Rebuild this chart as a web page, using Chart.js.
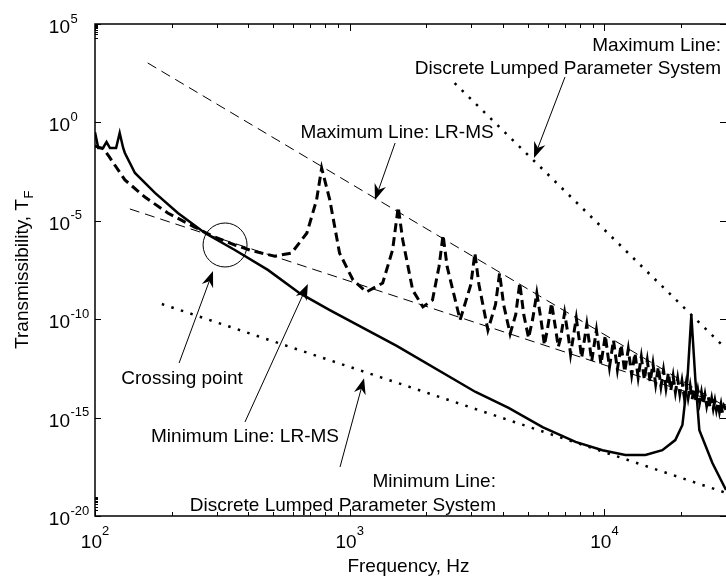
<!DOCTYPE html>
<html>
<head>
<meta charset="utf-8">
<script src="https://cdn.jsdelivr.net/npm/chart.js@4.4.0/dist/chart.umd.min.js"></script>
<style>
  html, body { margin: 0; padding: 0; background: #fff; }
  canvas { display: block; }
</style>
</head>
<body>
<canvas id="transChart" width="726" height="581"></canvas>
<script>
'use strict'

// solid curve
let solidFreq = [100, 103, 107.5, 111, 114.5, 121, 125, 129, 131, 143.5, 172, 211.5, 270, 354, 477, 636, 835, 1529, 3119, 4204,
    5715, 7697, 9822, 12080, 14480, 16870, 18970, 20230, 21160, 21930, 22750, 23580, 26530, 30000];
let solidT = [0.32, 0.05, 0.05, 0.1, 0.05, 0.05, 0.29, 0.05, 0.028, 2.7e-3, 2.6e-4, 2.5e-5, 2.4e-6, 3.3e-7, 3.2e-8, 2.1e-9, 2.9e-10, 4.4e-12, 2.0e-14, 3.1e-15,
    3.3e-16, 5.8e-17, 2.2e-17, 1.26e-17, 1.26e-17, 2.2e-17, 7.2e-17, 4.2e-16, 8.1e-14, 1.6e-10, 8.1e-14, 2.3e-16, 4.9e-18, 2.1e-19];

// thick dashed curve (resonances)
let dashedFreq = [100, 108, 114, 131, 157, 193, 246, 295, 354, 413, 508, 591, 679, 741, 776, 835, 912, 1030, 1162, 1347,
    1473, 1550, 1615, 1767, 1937, 2113, 2242, 2325, 2411, 2712, 2989, 3100, 3215, 3487, 3736, 3875, 4018, 4262, 4483, 4650,
    4822, 5037, 5230, 5425, 5626, 5812, 5977, 6200, 6429, 6587, 6724, 6975, 7233, 7362, 7750, 8138, 8525, 8912, 9300, 9688,
    10075, 10462, 10850, 11238, 11625, 12012, 12400, 12788, 13175, 13562, 13950, 14338, 14725, 15112, 15500, 15888, 16275, 16662, 17050, 17438,
    17825, 18212, 18600, 18988, 19375, 19762, 20150, 20538, 20925, 21312, 21700, 22088, 22475, 22862, 23250, 23638, 24025, 24412, 24800, 25188,
    25575, 25962, 26350, 26738, 27125, 27512, 27900, 28288, 28675, 29062, 29450, 30000];
let dashedT = [6.3e-2, 4.5e-2, 1.7e-2, 1.2e-3, 1.6e-4, 2.5e-5, 4.8e-6, 1.5e-6, 5.9e-7, 3.0e-7, 1.6e-7, 2.3e-7, 2.4e-6, 1.15e-4, 4.8e-3, 1.15e-4, 2.3e-7, 9.8e-9, 2.4e-9, 6.9e-9,
    3.3e-7, 5.0e-5, 1.05e-6, 3.0e-9, 4.2e-10, 9.5e-10, 4.8e-8, 1.9e-6, 4.8e-8, 9.1e-11, 5.8e-9, 2.3e-7, 5.8e-9, 2.8e-11, 5.6e-10, 2.2e-8, 5.6e-10, 1.8e-11, 1.7e-10, 6.9e-9,
    1.7e-10, 1.1e-11, 1.07e-10, 2.1e-9, 1.07e-10, 4.9e-12, 3.3e-11, 6.6e-10, 3.3e-11, 3.9e-12, 1.05e-11, 2.1e-10, 1.05e-11, 1.66e-12, 1.15e-10, 1.1e-12, 5.5e-11, 7.4e-13, 2.8e-11, 5.2e-13,
    1.5e-11, 3.7e-13, 8.5e-12, 2.75e-13, 5.0e-12, 2.1e-13, 3.0e-12, 1.5e-13, 1.9e-12, 1.12e-13, 1.23e-12, 8.5e-14, 8.1e-13, 6.5e-14, 5.5e-13, 5.0e-14, 3.7e-13, 3.9e-14, 2.6e-13, 3.1e-14,
    1.9e-13, 2.45e-14, 1.3e-13, 1.95e-14, 9.8e-14, 1.6e-14, 7.2e-14, 1.3e-14, 5.4e-14, 1.05e-14, 4.1e-14, 8.5e-15, 3.1e-14, 7.1e-15, 2.4e-14, 5.9e-15, 1.86e-14, 4.9e-15, 1.45e-14, 4.1e-15,
    1.15e-14, 3.4e-15, 9.1e-15, 2.9e-15, 7.2e-15, 2.45e-15, 5.9e-15, 2.0e-15, 4.8e-15, 1.75e-15, 3.9e-15, 2.5e-15];

// guide lines
let maxLrmsFreq = [161, 30000];
let maxLrmsT = [1.05e3, 3.5e-15];
let minLrmsFreq = [137, 30000];
let minLrmsT = [4.0e-5, 4.4e-15];
let maxDiscFreq = [2581, 30000];
let maxDiscT = [100, 3.1e-12];
let minDiscFreq = [183, 30000];
let minDiscT = [5.9e-10, 1.5e-19];

// axes
let xTicks = [1e2, 1e3, 1e4];
let xTickExp = ['2', '3', '4'];
let yTicks = [1e5, 1e0, 1e-5, 1e-10, 1e-15, 1e-20];
let yTickExp = ['5', '0', '-5', '-10', '-15', '-20'];

// annotations, in data coordinates
const notes = [
    { text: 'Maximum Line:', f: 28700, t: 4250, align: 'right' },
    { text: 'Discrete Lumped Parameter System', f: 28700, t: 288, align: 'right' },
    { text: 'Maximum Line: LR-MS', f: 1534, t: 0.161, align: 'center' },
    { text: 'Crossing point', f: 219.6, t: 5.1e-14, align: 'center' },
    { text: 'Minimum Line: LR-MS', f: 388, t: 5.8e-17, align: 'center' },
    { text: 'Minimum Line:', f: 3750, t: 3.0e-19, align: 'right' },
    { text: 'Discrete Lumped Parameter System', f: 3750, t: 1.8e-20, align: 'right' }
];
const arrows = [
    { from: [7000, 203], to: [5290, 0.0155] },
    { from: [1507, 0.0897], to: [1256, 1.14e-4] },
    { from: [213.8, 5.9e-13], to: [290.6, 2.8e-8] },
    { from: [388, 6.0e-16], to: [685, 6.2e-9] },
    { from: [916, 3.1e-18], to: [1138, 1.0e-13] }
];
const crossing = { f: 324, t: 5.9e-7, r: 22 };

const FONT = '"Liberation Sans", Arial, Helvetica, sans-serif';

function pairs(xs, ys) {
    return xs.map((x, i) => ({ x: x, y: ys[i] }));
}

function drawArrow(ctx, x0, y0, x1, y1) {
    let dx = x1 - x0, dy = y1 - y0;
    let len = Math.hypot(dx, dy);
    let ux = dx / len, uy = dy / len;
    let nx = -uy, ny = ux;
    let hl = 16, hw = 6, notch = 5;
    ctx.beginPath();
    ctx.moveTo(x0, y0);
    ctx.lineTo(x1 - ux * (hl - notch), y1 - uy * (hl - notch));
    ctx.lineWidth = 1;
    ctx.stroke();
    ctx.beginPath();
    ctx.moveTo(x1, y1);
    ctx.lineTo(x1 - ux * hl + nx * hw, y1 - uy * hl + ny * hw);
    ctx.lineTo(x1 - ux * (hl - notch), y1 - uy * (hl - notch));
    ctx.lineTo(x1 - ux * hl - nx * hw, y1 - uy * hl - ny * hw);
    ctx.closePath();
    ctx.fill();
}

const matlabAxes = {
    id: 'matlabAxes',
    afterDraw(chart) {
        const ctx = chart.ctx;
        const xs = chart.scales.x, ys = chart.scales.y;
        const a = chart.chartArea;
        ctx.save();
        ctx.strokeStyle = '#000';
        ctx.fillStyle = '#000';

        // box (right side falls off the picture)
        ctx.lineWidth = 1.5;
        ctx.beginPath();
        ctx.moveTo(a.right, a.top);
        ctx.lineTo(a.left, a.top);
        ctx.lineTo(a.left, a.bottom);
        ctx.lineTo(a.right, a.bottom);
        ctx.stroke();

        // x ticks
        ctx.lineWidth = 1;
        ctx.beginPath();
        for (let d = 2; d <= 4; d++) {
            for (let m = 1; m <= 9; m++) {
                let v = m * Math.pow(10, d);
                if (v > 30000) break;
                let x = Math.round(xs.getPixelForValue(v)) + 0.5;
                let l = m === 1 ? 7 : 4;
                ctx.moveTo(x, a.bottom); ctx.lineTo(x, a.bottom - l);
                ctx.moveTo(x, a.top); ctx.lineTo(x, a.top + l);
            }
        }
        // y ticks
        yTicks.forEach(v => {
            let y = Math.round(ys.getPixelForValue(v)) + 0.5;
            ctx.moveTo(a.left, y); ctx.lineTo(a.left + 6, y);
            ctx.moveTo(a.right, y); ctx.lineTo(a.right - 6, y);
        });
        for (let m = 2; m <= 9; m++) {
            let y1 = Math.round(ys.getPixelForValue(m * 1e4)) + 0.5;
            let y2 = Math.round(ys.getPixelForValue(m * 1e-20)) + 0.5;
            ctx.moveTo(a.left, y1); ctx.lineTo(a.left + 3, y1);
            ctx.moveTo(a.left, y2); ctx.lineTo(a.left + 3, y2);
        }
        ctx.stroke();

        // tick labels
        ctx.textBaseline = 'alphabetic';
        xTicks.forEach((v, i) => {
            let x = xs.getPixelForValue(v);
            ctx.font = '19px ' + FONT;
            let w10 = ctx.measureText('10').width;
            ctx.font = '13px ' + FONT;
            let we = ctx.measureText(xTickExp[i]).width;
            let x0 = x - (w10 + we) / 2;
            ctx.textAlign = 'left';
            ctx.font = '19px ' + FONT;
            ctx.fillText('10', x0, 548);
            ctx.font = '13px ' + FONT;
            ctx.fillText(xTickExp[i], x0 + w10, 535);
        });
        yTicks.forEach((v, i) => {
            let y = ys.getPixelForValue(v);
            ctx.font = '19px ' + FONT;
            ctx.textAlign = 'right';
            ctx.fillText('10', 70, y + 9);
            ctx.font = '13px ' + FONT;
            ctx.textAlign = 'left';
            ctx.fillText(yTickExp[i], 70.5, y - 1.5);
        });

        // axis titles
        ctx.font = '19px ' + FONT;
        ctx.textAlign = 'center';
        ctx.fillText('Frequency, Hz', (a.left + a.right) / 2 - 2, 572);

        ctx.save();
        ctx.translate(28, (a.top + a.bottom) / 2);
        ctx.rotate(-Math.PI / 2);
        ctx.font = '19px ' + FONT;
        let wMain = ctx.measureText('Transmissibility, T').width;
        ctx.font = '13px ' + FONT;
        let wSub = ctx.measureText('F').width;
        let start = -(wMain + wSub) / 2;
        ctx.textAlign = 'left';
        ctx.font = '19px ' + FONT;
        ctx.fillText('Transmissibility, T', start, 0);
        ctx.font = '13px ' + FONT;
        ctx.fillText('F', start + wMain + 0.5, 5);
        ctx.restore();

        // annotations
        ctx.font = '19px ' + FONT;
        notes.forEach(n => {
            ctx.textAlign = n.align;
            ctx.fillText(n.text, xs.getPixelForValue(n.f), ys.getPixelForValue(n.t));
        });
        arrows.forEach(ar => {
            drawArrow(ctx,
                xs.getPixelForValue(ar.from[0]), ys.getPixelForValue(ar.from[1]),
                xs.getPixelForValue(ar.to[0]), ys.getPixelForValue(ar.to[1]));
        });
        ctx.lineWidth = 1;
        ctx.beginPath();
        ctx.arc(xs.getPixelForValue(crossing.f), ys.getPixelForValue(crossing.t), crossing.r, 0, Math.PI * 2);
        ctx.stroke();

        ctx.restore();
    }
};

const dataTrans = {
    datasets: [
        {
            label: 'solid',
            data: pairs(solidFreq, solidT),
            borderColor: '#000',
            borderWidth: 2.5
        },
        {
            label: 'dashed',
            data: pairs(dashedFreq, dashedT),
            borderColor: '#000',
            borderWidth: 3,
            borderDash: [9, 5]
        },
        {
            label: 'Maximum Line: LR-MS',
            data: pairs(maxLrmsFreq, maxLrmsT),
            borderColor: '#000',
            borderWidth: 1,
            borderDash: [10, 6]
        },
        {
            label: 'Minimum Line: LR-MS',
            data: pairs(minLrmsFreq, minLrmsT),
            borderColor: '#000',
            borderWidth: 1,
            borderDash: [10, 6]
        },
        {
            label: 'Maximum Line: Discrete',
            data: pairs(maxDiscFreq, maxDiscT),
            borderColor: '#000',
            borderWidth: 2.5,
            borderDash: [2.5, 7.5]
        },
        {
            label: 'Minimum Line: Discrete',
            data: pairs(minDiscFreq, minDiscT),
            borderColor: '#000',
            borderWidth: 2.5,
            borderDash: [2.5, 7.5]
        }
    ]
};

const configTrans = {
    type: 'line',
    data: dataTrans,
    options: {
        responsive: false,
        animation: false,
        layout: { padding: { left: 95, top: 24, right: 0, bottom: 65 } },
        elements: { point: { radius: 0 }, line: { tension: 0 } },
        plugins: { legend: { display: false }, tooltip: { enabled: false } },
        scales: {
            x: { type: 'logarithmic', min: 100, max: 30000, display: false },
            y: { type: 'logarithmic', min: 1e-20, max: 1e5, display: false }
        }
    },
    plugins: [matlabAxes]
};

const chartTrans = new Chart(document.getElementById('transChart'), configTrans);
</script>
</body>
</html>
